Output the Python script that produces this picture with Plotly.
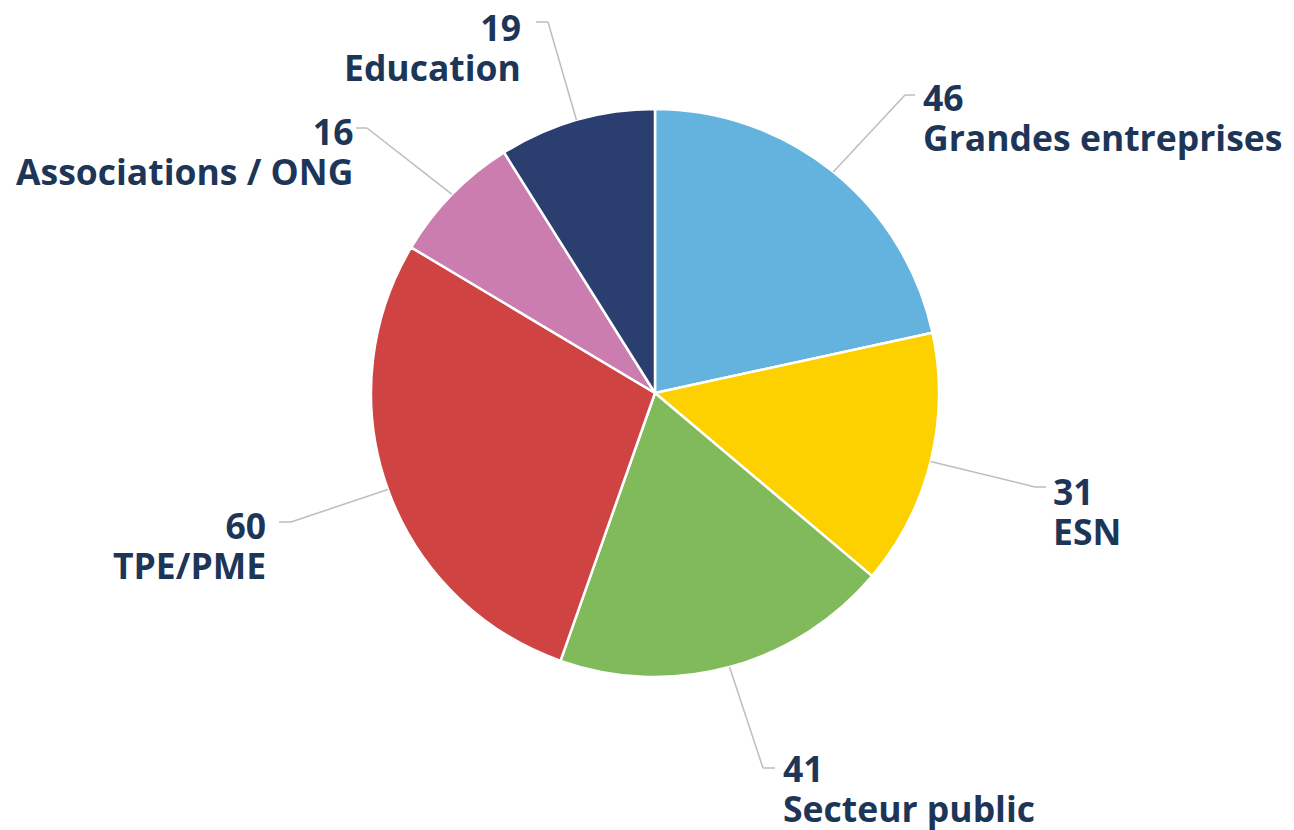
import math
import plotly.graph_objects as go

# ---- data ----
categories = ["Grandes entreprises", "ESN", "Secteur public", "TPE/PME", "Associations / ONG", "Education"]
values = [46, 31, 41, 60, 16, 19]
colors = ["#63B3DE", "#FDD000", "#80BA5A", "#CF4343", "#CC7DB0", "#2A3E70"]

W, H = 1294, 830
CX, CY, R = 655, 393, 284
TEXT_COLOR = "#1D3658"
FONT = "Open Sans"
GLYPH = 35.5    # glyph size (px)
LINE_FS = 30.5  # base size -> line spacing ~40px

# label layout: elbow point (px), horizontal tail length (+right/-left), text block centre y, text x
label_layout = {
    "Grandes entreprises": dict(elbow=(905, 95), tail=10, mid_y=117, tx=921),
    "ESN": dict(elbow=(1035, 487), tail=11, mid_y=511, tx=1051),
    "Secteur public": dict(elbow=(763, 768), tail=12, mid_y=788, tx=781),
    "TPE/PME": dict(elbow=(291, 522), tail=-12, mid_y=545, tx=268),
    "Associations / ONG": dict(elbow=(367, 128), tail=-11, mid_y=151, tx=355),
    "Education": dict(elbow=(548, 22), tail=-12, mid_y=47, tx=523),
}

def px2paper(x, y):
    return x / W, 1 - y / H

fig = go.Figure()
fig.add_trace(go.Pie(
    labels=categories, values=values, sort=False, direction="clockwise", rotation=0,
    marker=dict(colors=colors, line=dict(color="white", width=2.5)),
    textinfo="none", hoverinfo="label+value", showlegend=False,
    domain=dict(x=[(CX - R) / W, (CX + R) / W], y=[1 - (CY + R) / H, 1 - (CY - R) / H]),
))

total = sum(values)
cum = 0
shapes = []
annotations = []
for cat, v in zip(categories, values):
    mid = (cum + v / 2) / total * 2 * math.pi
    cum += v
    sx = CX + R * math.sin(mid)
    sy = CY - R * math.cos(mid)
    lay = label_layout[cat]
    ex, ey = lay["elbow"]
    tx = ex + lay["tail"]
    pts = [(sx, sy), (ex, ey), (tx, ey)]
    for (x0, y0), (x1, y1) in zip(pts[:-1], pts[1:]):
        a0 = px2paper(x0, y0)
        a1 = px2paper(x1, y1)
        shapes.append(dict(type="line", xref="paper", yref="paper",
                           x0=a0[0], y0=a0[1], x1=a1[0], y1=a1[1],
                           line=dict(color="#BDBDBD", width=1.5)))
    right_side = lay["tail"] > 0
    anchor = "left" if right_side else "right"
    span = f"<span style='font-size:{GLYPH}px'><b>%s</b></span>"
    text = (span % str(v)) + "<br>" + (span % cat)
    px_, py_ = px2paper(lay["tx"], lay["mid_y"])
    annotations.append(dict(x=px_, y=py_, xref="paper", yref="paper",
                            text=text, showarrow=False,
                            xanchor=anchor, yanchor="middle", align=anchor,
                            font=dict(family=FONT, size=LINE_FS, color=TEXT_COLOR)))

fig.update_layout(
    width=W, height=H, margin=dict(l=0, r=0, t=0, b=0),
    paper_bgcolor="white", plot_bgcolor="white",
    shapes=shapes, annotations=annotations,
)
fig.write_html("out.html", config={"displayModeBar": False},
               post_script="document.body.style.margin='0';")
